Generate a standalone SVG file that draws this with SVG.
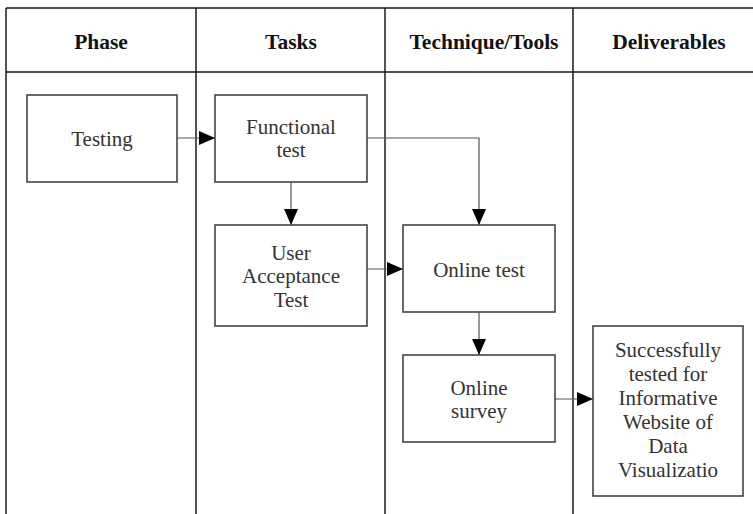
<svg xmlns="http://www.w3.org/2000/svg" width="753" height="514" viewBox="0 0 753 514">
<style>
.grid{stroke:#1a1a1a;stroke-width:1.5;fill:none}
.box{fill:#fff;stroke:#444;stroke-width:1.6}
.hd{font-family:'Liberation Serif','DejaVu Serif',serif;font-weight:bold;font-size:21.5px;fill:#111;text-anchor:middle}
.tx{font-family:'Liberation Serif','DejaVu Serif',serif;font-size:21px;fill:#333;text-anchor:middle}
.con{stroke:#555;stroke-width:1.2;fill:none}
</style>
<defs>
<marker id="ah" markerUnits="userSpaceOnUse" markerWidth="16" markerHeight="14" refX="16" refY="7" orient="auto">
<path d="M0,0 L16,7 L0,14 Z" fill="#000"/>
</marker>
</defs>
<g id="table">
<line class="grid" x1="6" y1="8" x2="753" y2="8"/>
<line class="grid" x1="6" y1="72" x2="753" y2="72"/>
<line class="grid" x1="6" y1="8" x2="6" y2="514"/>
<line class="grid" x1="196" y1="8" x2="196" y2="514"/>
<line class="grid" x1="385" y1="8" x2="385" y2="514"/>
<line class="grid" x1="573" y1="8" x2="573" y2="514"/>
<text class="hd" x="101" y="49">Phase</text>
<text class="hd" x="291" y="49">Tasks</text>
<text class="hd" x="484" y="49">Technique/Tools</text>
<text class="hd" x="669" y="49">Deliverables</text>
</g>
<g id="connectors">
<line class="con" x1="177" y1="138" x2="215" y2="138" marker-end="url(#ah)"/>
<line class="con" x1="291" y1="182" x2="291" y2="225" marker-end="url(#ah)"/>
<polyline class="con" points="367,138 479,138 479,225" marker-end="url(#ah)"/>
<line class="con" x1="367" y1="269" x2="403" y2="269" marker-end="url(#ah)"/>
<line class="con" x1="479" y1="312" x2="479" y2="355" marker-end="url(#ah)"/>
<line class="con" x1="555" y1="399" x2="593" y2="399" marker-end="url(#ah)"/>
</g>
<g id="testing">
<rect class="box" x="27" y="95" width="150" height="87"/>
<text class="tx" x="102" y="146">Testing</text>
</g>
<g id="functional">
<rect class="box" x="215" y="95" width="152" height="87"/>
<text class="tx" x="291" y="134">Functional</text>
<text class="tx" x="291" y="157">test</text>
</g>
<g id="uat">
<rect class="box" x="215" y="225" width="152" height="101"/>
<text class="tx" x="291" y="260">User</text>
<text class="tx" x="291" y="283">Acceptance</text>
<text class="tx" x="291" y="307">Test</text>
</g>
<g id="online-test">
<rect class="box" x="403" y="225" width="152" height="87"/>
<text class="tx" x="479" y="277">Online test</text>
</g>
<g id="online-survey">
<rect class="box" x="403" y="355" width="152" height="87"/>
<text class="tx" x="479" y="395">Online</text>
<text class="tx" x="479" y="418">survey</text>
</g>
<g id="deliverable">
<rect class="box" x="593" y="326" width="150" height="170"/>
<text class="tx" x="668" y="357">Successfully</text>
<text class="tx" x="668" y="381">tested for</text>
<text class="tx" x="668" y="405">Informative</text>
<text class="tx" x="668" y="429">Website of</text>
<text class="tx" x="668" y="453">Data</text>
<text class="tx" x="668" y="477">Visualizatio</text>
</g>
</svg>
